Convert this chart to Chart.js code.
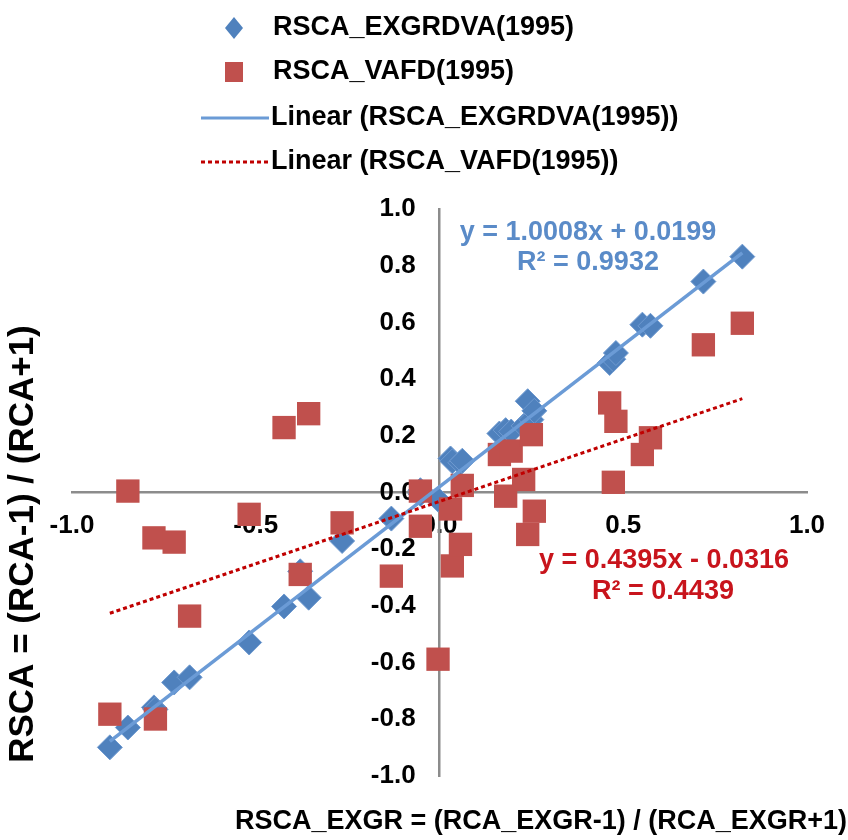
<!DOCTYPE html>
<html>
<head>
<meta charset="utf-8">
<script src="https://cdn.jsdelivr.net/npm/chart.js@4/dist/chart.umd.min.js"></script>
<style>
html,body{margin:0;padding:0;background:#fff;}
#wrap{width:848px;height:840px;position:relative;}
</style>
</head>
<body>
<div id="wrap"><canvas id="c" width="848" height="840"></canvas></div>
<script>
// ---- data ----
const seriesNames = ['RSCA_EXGRDVA(1995)', 'RSCA_VAFD(1995)'];
const trendNames = ['Linear (RSCA_EXGRDVA(1995))', 'Linear (RSCA_VAFD(1995))'];
const xRscaExgr = [-0.897, -0.848, -0.777, -0.773, -0.722, -0.680, -0.518, -0.423, -0.379, -0.356, -0.265, -0.131, -0.052, -0.052, -0.004,
                   0.030, 0.035, 0.057, 0.062, 0.163, 0.180, 0.195, 0.229, 0.240, 0.250, 0.258,
                   0.463, 0.473, 0.480, 0.552, 0.574, 0.718, 0.824];
const yExgrdva = [-0.899, -0.829, -0.758, -0.765, -0.670, -0.652, -0.529, -0.402, -0.278, -0.371, -0.171, -0.092, 0.008, -0.005, -0.025,
                  0.120, 0.110, 0.105, 0.112, 0.208, 0.220, 0.215, 0.235, 0.322, 0.257, 0.288,
                  0.457, 0.470, 0.492, 0.592, 0.588, 0.744, 0.832];
const yVafd = [-0.782, 0.005, -0.160, -0.799, -0.175, -0.436, -0.077, 0.229, -0.289, 0.278, -0.107, -0.295, 0.005, -0.119, -0.588,
               -0.058, -0.259, -0.183, 0.025, 0.134, -0.013, 0.146, 0.046, -0.148, 0.204, -0.066,
               0.316, 0.036, 0.251, 0.134, 0.193, 0.521, 0.597];
const trendX = [-0.897, 0.824];
const trendExgrdvaY = [-0.878, 0.845];
const trendVafdY = [-0.426, 0.331];
const equationExgrdva = ['y = 1.0008x + 0.0199', 'R\u00B2 = 0.9932'];
const equationVafd = ['y = 0.4395x - 0.0316', 'R\u00B2 = 0.4439'];
const xTitle = 'RSCA_EXGR = (RCA_EXGR-1) / (RCA_EXGR+1)';
const yTitle = 'RSCA = (RCA-1) / (RCA+1)';
const axisMin = -1, axisMax = 1, xStep = 0.5, yStep = 0.2;

// ---- styles ----
const FONT = "'Liberation Sans', Arial, sans-serif";
const BLUE = '#4F81BD', BLUE_LINE = '#6b9bd6', RED = '#C0504D', RED_LINE = '#C00000';

const pts = (xs, ys) => xs.map((x, i) => ({x: x, y: ys[i]}));
const fmt = v => (Math.abs(v) < 1e-9 ? 0 : v).toFixed(1);

const overlay = {
  id: 'overlay',
  afterDraw(chart) {
    const ctx = chart.ctx;
    ctx.save();
    // legend
    ctx.textBaseline = 'middle';
    ctx.textAlign = 'left';
    ctx.font = 'bold 27px ' + FONT;
    ctx.fillStyle = '#000';
    const lx = 234, tx = 273, rows = [28, 72, 118, 162];
    ctx.fillText(seriesNames[0], tx, rows[0]);
    ctx.fillText(seriesNames[1], tx, rows[1]);
    ctx.fillText(trendNames[0], tx - 2, rows[2]);
    ctx.fillText(trendNames[1], tx - 2, rows[3]);
    ctx.fillStyle = BLUE;
    ctx.beginPath();
    ctx.moveTo(lx, rows[0] - 11); ctx.lineTo(lx + 9, rows[0]); ctx.lineTo(lx, rows[0] + 11); ctx.lineTo(lx - 9, rows[0]);
    ctx.closePath(); ctx.fill();
    ctx.fillStyle = RED;
    ctx.fillRect(lx - 9, rows[1] - 10, 18, 20);
    ctx.lineWidth = 3;
    ctx.strokeStyle = BLUE_LINE;
    ctx.beginPath(); ctx.moveTo(201, rows[2]); ctx.lineTo(269, rows[2]); ctx.stroke();
    ctx.strokeStyle = RED_LINE;
    ctx.setLineDash([4, 3]);
    ctx.beginPath(); ctx.moveTo(201, rows[3]); ctx.lineTo(269, rows[3]); ctx.stroke();
    ctx.setLineDash([]);
    // trendline equations
    ctx.textAlign = 'center';
    ctx.font = 'bold 27px ' + FONT;
    ctx.fillStyle = '#5a8bc8';
    ctx.fillText(equationExgrdva[0], 588, 233);
    ctx.fillText(equationExgrdva[1], 588, 263);
    ctx.fillStyle = '#C8141C';
    ctx.fillText(equationVafd[0], 664, 561);
    ctx.fillText(equationVafd[1], 663, 592);
    // axis titles
    ctx.fillStyle = '#000';
    ctx.font = 'bold 27px ' + FONT;
    ctx.fillText(xTitle, 541, 822);
    ctx.translate(23, 544);
    ctx.rotate(-Math.PI / 2);
    ctx.font = 'bold 35px ' + FONT;
    ctx.fillText(yTitle, 0, 0);
    ctx.restore();
  }
};

const tickFont = {family: FONT, size: 26, weight: 'bold'};

new Chart(document.getElementById('c'), {
  type: 'scatter',
  data: {
    datasets: [
      {label: trendNames[1], data: pts(trendX, trendVafdY), showLine: true, borderColor: RED_LINE, borderWidth: 3,
       borderDash: [4, 3], pointRadius: 0, fill: false},
      {label: trendNames[0], data: pts(trendX, trendExgrdvaY), showLine: true, borderColor: BLUE_LINE, borderWidth: 3.5,
       pointRadius: 0, fill: false},
      {label: seriesNames[1], data: pts(xRscaExgr, yVafd), pointStyle: 'rect', pointRadius: 16.5,
       backgroundColor: RED, borderColor: RED, borderWidth: 0},
      {label: seriesNames[0], data: pts(xRscaExgr, yExgrdva), pointStyle: 'rectRot', pointRadius: 12.5,
       backgroundColor: BLUE, borderColor: '#6f9ad0', borderWidth: 1}
    ]
  },
  options: {
    responsive: false,
    animation: false,
    events: [],
    layout: {padding: {left: 72, right: 41, top: 209, bottom: 64}},
    plugins: {legend: {display: false}, tooltip: {enabled: false}},
    scales: {
      x: {
        type: 'linear', min: axisMin, max: axisMax, position: {y: 0},
        grid: {display: false, drawTicks: false},
        border: {display: true, color: '#8c8c8c', width: 2.5},
        ticks: {stepSize: xStep, padding: 18, font: tickFont, color: '#000', callback: fmt, maxRotation: 0, autoSkip: false}
      },
      y: {
        type: 'linear', min: axisMin, max: axisMax, position: {x: 0},
        grid: {display: false, drawTicks: false},
        border: {display: true, color: '#8c8c8c', width: 2.5},
        ticks: {display: false, stepSize: yStep}
      },
      yLabels: {
        type: 'linear', axis: 'y', min: axisMin, max: axisMax, position: {x: -0.065},
        grid: {display: false, drawTicks: false},
        border: {display: false},
        ticks: {stepSize: yStep, padding: 0, font: tickFont, color: '#000', callback: fmt, autoSkip: false}
      }
    }
  },
  plugins: [overlay]
});
</script>
</body>
</html>
